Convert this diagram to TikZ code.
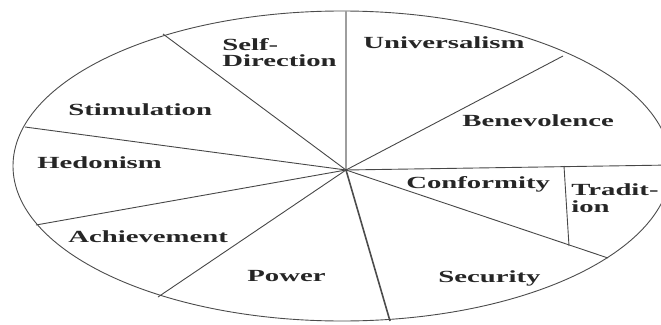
\documentclass[tikz,border=0pt]{standalone}
\usepackage{fontspec}
\setmainfont{Liberation Serif}
\begin{document}
\begin{tikzpicture}[x=1pt,y=-1pt,
  rim/.style={line width=0.9pt, draw=black!70},
  spoke/.style={line width=0.9pt, draw=black!72},
  lightspoke/.style={line width=1.8pt, draw=black!38},
  heavyspoke/.style={line width=1.6pt, draw=black!70},
  lbl/.style={font=\bfseries\fontsize{17}{16.5}\selectfont, xscale=1.69, inner sep=0pt,
              anchor=base west, align=left, text=black!85}]
\useasboundingbox (0,0) rectangle (661,324);
\clip (0,0) rectangle (661,324);

% outer ellipse
\draw[rim] (342,166) ellipse [x radius=329pt, y radius=155pt];

% hub and rim points of the spokes
\coordinate (c) at (346,170);
\coordinate (pUni)  at (346,11);
\coordinate (pBen)  at (563,56);
\coordinate (pCon)  at (671,165);
\coordinate (pSec)  at (608,258);
\coordinate (pPow)  at (390,321);
\coordinate (pAch)  at (158,297);
\coordinate (pHed)  at (36,225);
\coordinate (pSti)  at (25,127);
\coordinate (pSel)  at (163,34);
% divider between Conformity and Tradition
\coordinate (tTop)  at (564,166);
\coordinate (tBot)  at (569,246);

\draw[lightspoke] (c) -- (pUni);
\draw[spoke] (c) -- (pBen);
\draw[spoke] (c) -- (pCon);
\draw[spoke] (c) -- (pSec);
\draw[heavyspoke] (c) -- (pPow);
\draw[spoke] (c) -- (pAch);
\draw[spoke] (c) -- (pHed);
\draw[spoke] (c) -- (pSti);
\draw[spoke] (c) -- (pSel);
\draw[spoke] (tTop) -- (tBot);

% sector labels (multi-line labels are placed by their last baseline)
\node[lbl] (selfdir) at (222,66.5) {Self-\\Direction};
\node[lbl] (univ) at (363,48) {Universalism};
\node[lbl] (stim) at (68,115) {Stimulation};
\node[lbl] (bene) at (462,126) {Benevolence};
\node[lbl] (hedo) at (37,168) {Hedonism};
\node[lbl] (conf) at (406,188) {Conformity};
\node[lbl, font=\bfseries\fontsize{17}{17.5}\selectfont] (trad) at (571,212.5) {Tradit-\\ion};
\node[lbl] (achi) at (68,242) {Achievement};
\node[lbl] (powr) at (247,281) {Power};
\node[lbl] (secu) at (438,282) {Security};
\end{tikzpicture}
\end{document}
